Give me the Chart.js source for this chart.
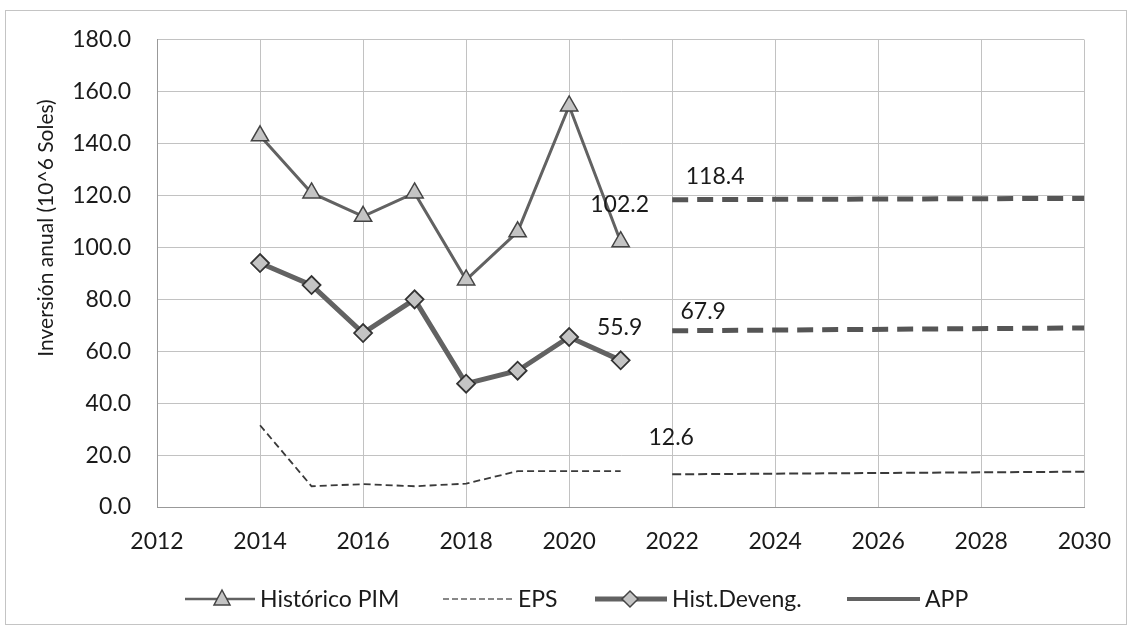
<!DOCTYPE html>
<html>
<head>
<meta charset="utf-8">
<script src="https://cdn.jsdelivr.net/npm/chart.js@4.4.1/dist/chart.umd.min.js"></script>
<style>
  html, body { margin: 0; padding: 0; background: #fff; }
  #wrap { width: 1132px; height: 631px; }
</style>
</head>
<body>
<div id="wrap"><canvas id="chart" width="1132" height="631"></canvas></div>
<script>
// --- Data ---
const years = [2014, 2015, 2016, 2017, 2018, 2019, 2020, 2021];
const pimValues = [143, 121, 112, 121, 87.5, 106, 154.5, 102.2];
const devengValues = [94, 85.5, 67, 80, 47.5, 52.5, 65.5, 56.5];
const epsValues = [31.5, 8, 8.8, 8, 9, 13.8, 13.8, 13.8];

const projYears = [2022, 2030];
const projPim = [118.4, 118.9];
const projDeveng = [67.9, 69.0];
const projEps = [12.6, 13.6];

const yTicks = [0, 20, 40, 60, 80, 100, 120, 140, 160, 180];
const xTicks = [2012, 2014, 2016, 2018, 2020, 2022, 2024, 2026, 2028, 2030];

const labelTexts = ['102.2', '55.9', '118.4', '67.9', '12.6'];
const yTitle = 'Inversión anual (10^6 Soles)';

const FONT = "Lato, 'Open Sans', sans-serif";
const LINE = '#626262';
const FILL = '#c4c4c4';

const toXY = (xs, ys) => xs.map((x, i) => ({ x: x, y: ys[i] }));

// --- Chart ---
const ctx = document.getElementById('chart').getContext('2d');

// marker drawing, for the legend
function drawMarker(c, kind, x, y) {
    c.save();
    c.setLineDash([]);
    c.fillStyle = FILL;
    c.strokeStyle = '#444';
    c.lineWidth = 1.5;
    c.beginPath();
    if (kind === 'triangle') {
        c.moveTo(x, y - 9);
        c.lineTo(x + 8, y + 6);
        c.lineTo(x - 8, y + 6);
    } else {
        c.moveTo(x, y - 8);
        c.lineTo(x + 8, y);
        c.lineTo(x, y + 8);
        c.lineTo(x - 8, y);
    }
    c.closePath();
    c.fill();
    c.stroke();
    c.restore();
}

// legend entries (drawn by hand, like the Excel legend)
const legendItems = [
    { text: 'Histórico PIM', x: 185, w: 70, width: 2.5, dash: [], marker: 'triangle', mx: 37 },
    { text: 'EPS', x: 443, w: 70, width: 1.6, dash: [6, 3], marker: null },
    { text: 'Hist.Deveng.', x: 595, w: 72, width: 5, dash: [], marker: 'diamond', mx: 35 },
    { text: 'APP', x: 847, w: 73, width: 4, dash: [], marker: null }
];

const framePlugin = {
    id: 'frame',
    beforeDraw(chart) {
        const c = chart.ctx;
        c.save();
        c.fillStyle = '#fff';
        c.fillRect(0, 0, chart.width, chart.height);
        c.strokeStyle = '#c4c4c4';
        c.lineWidth = 1;
        c.strokeRect(5.5, 10.5, 1121, 614);
        c.restore();
    },
    afterDraw(chart) {
        const c = chart.ctx;
        // y axis title
        c.save();
        c.translate(46, 228);
        c.rotate(-Math.PI / 2);
        c.font = '21px ' + FONT;
        c.fillStyle = '#1a1a1a';
        c.textAlign = 'center';
        c.textBaseline = 'middle';
        c.fillText(yTitle, 0, 0);
        c.restore();

        // data labels
        const pts = [
            { ds: 0, i: 7, dx: -1, dy: -37 },
            { ds: 2, i: 7, dx: -1, dy: -33 },
            { ds: 4, i: 0, dx: 43, dy: -23 },
            { ds: 5, i: 0, dx: 31, dy: -19 },
            { ds: 6, i: 0, dx: -1, dy: -37 }
        ];
        c.save();
        c.font = '23px ' + FONT;
        c.fillStyle = '#1a1a1a';
        c.textAlign = 'center';
        c.textBaseline = 'middle';
        pts.forEach((p, k) => {
            const el = chart.getDatasetMeta(p.ds).data[p.i];
            c.fillText(labelTexts[k], el.x + p.dx, el.y + p.dy);
        });
        // legend
        const ly = 599;
        c.font = '23px ' + FONT;
        c.textAlign = 'left';
        legendItems.forEach(item => {
            c.save();
            c.strokeStyle = LINE;
            c.lineWidth = item.width;
            c.setLineDash(item.dash);
            c.beginPath();
            c.moveTo(item.x, ly);
            c.lineTo(item.x + item.w, ly);
            c.stroke();
            c.restore();
            if (item.marker) drawMarker(c, item.marker, item.x + item.mx, ly);
            c.fillStyle = '#1a1a1a';
            c.fillText(item.text, item.x + item.w + 5, ly + 1);
        });
        c.restore();
    }
};

const chart = new Chart(ctx, {
    type: 'line',
    data: {
        datasets: [
            {
                label: 'Histórico PIM',
                data: toXY(years, pimValues),
                borderColor: LINE,
                borderWidth: 3,
                pointStyle: 'triangle',
                pointRadius: 10,
                pointBackgroundColor: FILL,
                pointBorderColor: '#444',
                pointBorderWidth: 1.5,
                tension: 0
            },
            {
                label: 'EPS',
                data: toXY(years, epsValues),
                borderColor: '#3a3a3a',
                borderWidth: 1.8,
                borderDash: [7, 4],
                pointRadius: 0,
                tension: 0
            },
            {
                label: 'Hist.Deveng.',
                data: toXY(years, devengValues),
                borderColor: LINE,
                borderWidth: 5,
                pointStyle: 'rectRot',
                pointRadius: 9,
                pointBackgroundColor: FILL,
                pointBorderColor: '#333',
                pointBorderWidth: 1.8,
                tension: 0
            },
            {
                label: 'APP',
                data: [],
                borderColor: LINE,
                borderWidth: 4,
                pointRadius: 0
            },
            {
                label: 'Proy. PIM',
                data: toXY(projYears, projPim),
                borderColor: '#555',
                borderWidth: 5,
                borderDash: [16, 9],
                pointRadius: 0
            },
            {
                label: 'Proy. Deveng.',
                data: toXY(projYears, projDeveng),
                borderColor: '#555',
                borderWidth: 5,
                borderDash: [16, 9],
                pointRadius: 0
            },
            {
                label: 'Proy. EPS',
                data: toXY(projYears, projEps),
                borderColor: '#3a3a3a',
                borderWidth: 2,
                borderDash: [9, 4],
                pointRadius: 0
            }
        ]
    },
    options: {
        responsive: false,
        animation: false,
        layout: { padding: { left: 10, right: 44, top: 30, bottom: 0 } },
        scales: {
            x: {
                type: 'linear',
                min: 2012,
                max: 2030,
                afterBuildTicks: (scale) => { scale.ticks = xTicks.map(v => ({ value: v })); },
                afterFit: (scale) => { scale.height = 124; },
                ticks: {
                    padding: 21,
                    color: '#1a1a1a',
                    font: { family: FONT, size: 23 },
                    callback: (v) => String(v)
                },
                grid: { color: '#c2c2c2', lineWidth: 1, drawTicks: false },
                border: { color: '#999' }
            },
            y: {
                min: 0,
                max: 180,
                afterBuildTicks: (scale) => { scale.ticks = yTicks.map(v => ({ value: v })); },
                afterFit: (scale) => { scale.width = 147; },
                ticks: {
                    padding: 26,
                    color: '#1a1a1a',
                    font: { family: FONT, size: 23 },
                    callback: (v) => v.toFixed(1)
                },
                grid: { color: '#c2c2c2', lineWidth: 1, drawTicks: false },
                border: { color: '#999' }
            }
        },
        plugins: {
            legend: { display: false },
            tooltip: { enabled: false }
        }
    },
    plugins: [framePlugin]
});
</script>
</body>
</html>
